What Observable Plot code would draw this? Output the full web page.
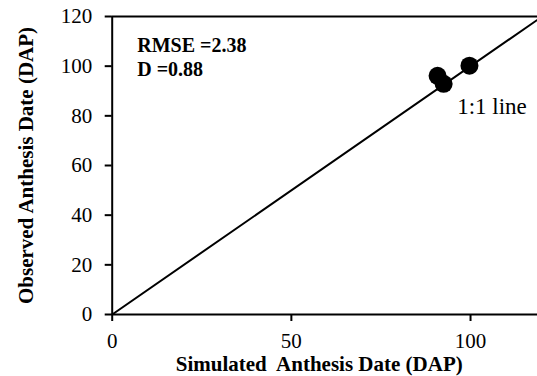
<!DOCTYPE html>
<html>
<head>
<meta charset="utf-8">
<script src="https://cdn.jsdelivr.net/npm/d3@7"></script>
<script src="https://cdn.jsdelivr.net/npm/@observablehq/plot@0.6"></script>
<style>
  html, body { margin: 0; padding: 0; background: #fff; overflow: hidden; }
  svg { overflow: hidden; }
  svg text { font-family: 'Liberation Serif', 'Times New Roman', serif; }
</style>
</head>
<body>
<div id="chart"></div>
<script>
// Data
const simulated = [90.8, 92.5, 99.7];   // Simulated anthesis date (DAP)
const observed  = [96.1, 92.9, 100.2];  // Observed anthesis date (DAP)
const oneToOne  = [0, 120];             // 1:1 reference line values
const xTicks = [0, 50, 100];
const yTicks = [0, 20, 40, 60, 80, 100, 120];
const xTitle = "Simulated  Anthesis Date (DAP)";
const yTitle = "Observed Anthesis Date (DAP)";
const statText = "RMSE =2.38\nD =0.88";
const lineText = "1:1 line";

const points = simulated.map((s, i) => ({sim: s, obs: observed[i]}));
const font = "'Liberation Serif', 'Times New Roman', serif";

const chart = Plot.plot({
  width: 537,
  height: 376,
  marginLeft: 111.7,
  marginRight: -4.7,
  marginTop: 16,
  marginBottom: 62,
  style: {fontFamily: font, background: "white", overflow: "hidden"},
  x: {domain: [0, 120]},
  y: {domain: [0, 120]},
  marks: [
    Plot.axisY({ticks: yTicks, tickSize: 7, tickPadding: 13, fontSize: 21, fontFamily: font, strokeWidth: 2, label: null}),
    Plot.axisX({ticks: xTicks, tickSize: 7, tickPadding: 12, fontSize: 21, fontFamily: font, strokeWidth: 2, label: null}),
    Plot.ruleY([0], {stroke: "black", strokeWidth: 2}),
    Plot.ruleX([0], {stroke: "black", strokeWidth: 2}),
    Plot.ruleY([120], {stroke: "black", strokeWidth: 2}),
    Plot.line(oneToOne, {x: d => d, y: d => d, stroke: "black", strokeWidth: 2}),
    Plot.dot(points, {x: "sim", y: "obs", r: 9, fill: "black", stroke: "none"}),
    Plot.text([statText], {frameAnchor: "top-left", dx: 25, dy: 18, textAnchor: "start", lineAnchor: "top",
      lineHeight: 1.2, fontSize: 20, fontWeight: "bold", fontFamily: font, fill: "black"}),
    Plot.text([lineText], {frameAnchor: "top-left", dx: 345, dy: 97, textAnchor: "start", lineAnchor: "bottom",
      fontSize: 23, fontFamily: font, fill: "black"}),
    Plot.text([xTitle], {frameAnchor: "bottom", dx: -8, dy: 56, textAnchor: "middle", lineAnchor: "bottom",
      fontSize: 21, fontWeight: "bold", fontFamily: font, fill: "black"}),
    Plot.text([yTitle], {frameAnchor: "left", dx: -79, rotate: -90, textAnchor: "middle", lineAnchor: "bottom",
      fontSize: 21, fontWeight: "bold", fontFamily: font, fill: "black"})
  ]
});
document.getElementById("chart").appendChild(chart);
</script>
</body>
</html>
